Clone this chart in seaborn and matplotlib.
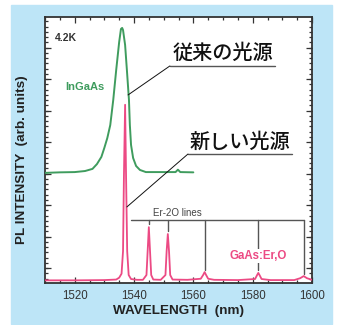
import matplotlib
matplotlib.use("Agg")
import matplotlib.pyplot as plt
from matplotlib.patches import Rectangle
from matplotlib.ticker import MultipleLocator
import seaborn as sns

# InGaAs (conventional source) spectrum
ingaas_wl = [1510, 1515, 1520, 1523.5, 1526, 1527.5, 1529, 1530, 1531, 1532,
             1533, 1534, 1535, 1535.6, 1536, 1536.3, 1537, 1537.6, 1538.3,
             1538.6, 1539, 1539.7, 1540.7, 1542, 1544, 1549, 1554, 1554.8,
             1555.6, 1560]
ingaas_pl = [0.414, 0.416, 0.417, 0.421, 0.429, 0.447, 0.474, 0.508, 0.545,
             0.594, 0.688, 0.801, 0.906, 0.955, 0.959, 0.951, 0.895, 0.801,
             0.688, 0.594, 0.519, 0.470, 0.440, 0.425, 0.417, 0.417, 0.417,
             0.426, 0.417, 0.416]

# GaAs:Er,O (new source) spectrum
gaas_wl = [1510, 1520, 1530, 1534, 1535, 1535.8, 1536.3, 1536.6, 1537.0,
           1537.3, 1537.7, 1538.2, 1539, 1541, 1543, 1544.2, 1544.6, 1545.0,
           1545.4, 1545.8, 1546.5, 1549, 1550.6, 1551.0, 1551.4, 1551.8,
           1552.2, 1553, 1558, 1562.5, 1563.3, 1563.8, 1564.3, 1565, 1567,
           1575, 1580.8, 1581.5, 1581.9, 1582.3, 1583, 1586, 1594, 1596,
           1597.2, 1598.3, 1600]
gaas_pl = [0.010, 0.010, 0.011, 0.013, 0.020, 0.035, 0.12, 0.40, 0.67,
           0.42, 0.12, 0.030, 0.015, 0.012, 0.012, 0.030, 0.12, 0.21,
           0.12, 0.030, 0.013, 0.012, 0.030, 0.12, 0.184, 0.12,
           0.030, 0.013, 0.012, 0.016, 0.030, 0.041, 0.030, 0.016, 0.012,
           0.011, 0.015, 0.030, 0.038, 0.030, 0.015, 0.011, 0.011, 0.018,
           0.026, 0.018, 0.012]

# Er-2O line positions and where their markers stop
er_lines = [1545.0, 1551.4, 1563.8, 1581.9, 1597.4]
er_line_ends = [0.222, 0.195, 0.05, 0.05, 0.035]
er_bar_y = 0.237

x_ticks = [1520, 1540, 1560, 1580, 1600]

green = "#3f9c5e"
pink = "#ec4a84"
dark = "#333333"

sns.set_theme(style="ticks")
plt.rcParams["font.family"] = ["Liberation Sans", "Noto Sans CJK JP"]

fig = plt.figure(figsize=(3.42, 3.25), dpi=100, facecolor="white")
fig.patches.append(Rectangle((0.032, 0.004), 0.939, 0.981,
                             transform=fig.transFigure, color="#bde5f7",
                             zorder=-10))
ax = fig.add_axes([0.1316, 0.1292, 0.7807, 0.8185])
ax.set_zorder(2)
ax.set_facecolor("white")

sns.lineplot(x=gaas_wl, y=gaas_pl, ax=ax, color=pink, lw=1.3,
             estimator=None, sort=False, zorder=3)
sns.lineplot(x=ingaas_wl, y=ingaas_pl, ax=ax, color=green, lw=1.4,
             estimator=None, sort=False, zorder=4)

# Er-2O bracket
ax.plot([1539.0, er_lines[-1]], [er_bar_y, er_bar_y], color="#555555",
        lw=1.0, zorder=2)
for xl, ye in zip(er_lines, er_line_ends):
    ax.plot([xl, xl], [er_bar_y, ye], color="#555555", lw=1.0, zorder=2)
ax.text(1554.6, er_bar_y + 0.006, "Er-2O lines", fontsize=7, color="#444444",
        ha="center", va="bottom")

# labels inside the plot
ax.text(1513.4, 0.921, "4.2K", fontsize=7.5, fontweight="bold", color=dark,
        ha="left", va="center")
ax.text(1523.5, 0.737, "InGaAs", fontsize=8, fontweight="bold", color=green,
        ha="center", va="center")
ax.text(1582.0, 0.102, "GaAs:Er,O", fontsize=8.3, fontweight="bold",
        color=pink, ha="center", va="center", zorder=5,
        bbox=dict(facecolor="white", edgecolor="none", pad=0.5))

# callouts
ax.text(1570.0, 0.865, "従来の光源", fontsize=14.5, fontweight="medium",
        color="#111111", ha="center", va="center")
ax.plot([1552.1, 1587.5], [0.816, 0.816], color="#555555", lw=1.0)
ax.plot([1552.1, 1538.0], [0.816, 0.707], color="#111111", lw=0.7, zorder=5)
ax.text(1575.7, 0.530, "新しい光源", fontsize=14.5, fontweight="medium",
        color="#111111", ha="center", va="center")
ax.plot([1558.2, 1593.2], [0.485, 0.485], color="#555555", lw=1.0)
ax.plot([1558.2, 1537.6], [0.485, 0.286], color="#111111", lw=0.7, zorder=5)

ax.set_xlim(1510, 1600)
ax.set_ylim(0, 1)
ax.set_xticks(x_ticks)
ax.xaxis.set_minor_locator(MultipleLocator(5))
ax.yaxis.set_major_locator(MultipleLocator(0.1184, offset=0.0564))
ax.yaxis.set_minor_locator(MultipleLocator(0.1184 / 6, offset=0.0169))
ax.tick_params(which="both", direction="in", top=True, right=True,
               color=dark, width=0.9)
ax.tick_params(which="major", length=4.5)
ax.tick_params(which="minor", length=2.5)
ax.tick_params(axis="x", labelsize=8.3, labelcolor=dark, pad=5)
ax.tick_params(axis="y", labelleft=False)
for s in ax.spines.values():
    s.set_color(dark)
    s.set_linewidth(1.3)

ax.set_xlabel("WAVELENGTH  (nm)", fontsize=9.7, fontweight="bold",
              color="#222222", labelpad=2)
ax.set_ylabel("PL INTENSITY  (arb. units)", fontsize=9.7, fontweight="bold",
              color="#222222")
ax.yaxis.set_label_coords(-0.064, 0.462)

fig.savefig("out.png", dpi=100)
